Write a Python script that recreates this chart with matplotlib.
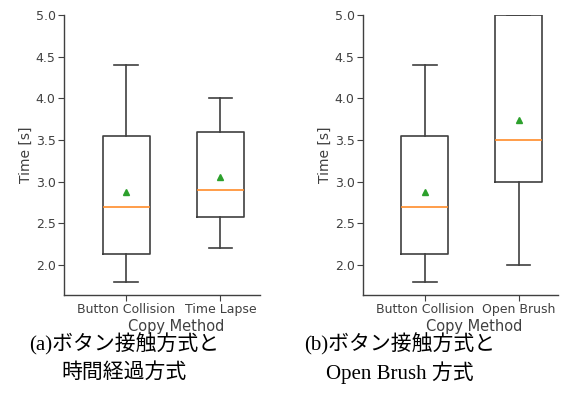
import matplotlib.pyplot as plt

# Box statistics (seconds)
labels_a = ["Button Collision", "Time Lapse"]
labels_b = ["Button Collision", "Open Brush"]

wlo_a  = [1.8, 2.2]
q1_a   = [2.13, 2.58]
med_a  = [2.7, 2.9]
mean_a = [2.88, 3.06]
q3_a   = [3.55, 3.6]
whi_a  = [4.4, 4.0]

wlo_b  = [1.8, 2.0]
q1_b   = [2.13, 3.0]
med_b  = [2.7, 3.5]
mean_b = [2.88, 3.74]
q3_b   = [3.55, 5.0]
whi_b  = [4.4, 5.0]

captions_a = ["(a)ボタン接触方式と", "時間経過方式"]
captions_b = ["(b)ボタン接触方式と", "Open Brush 方式"]


def make_stats(labels, wlo, q1, med, mean, q3, whi):
    stats = []
    for i in range(len(labels)):
        stats.append(dict(label=labels[i], whislo=wlo[i], q1=q1[i], med=med[i],
                          mean=mean[i], q3=q3[i], whishi=whi[i], fliers=[]))
    return stats


fig = plt.figure(figsize=(5.63, 3.96), dpi=100)
W, H = 563, 396

# axes placed in pixel coordinates of the reference
ax_a = fig.add_axes([64 / W, 1 - 295 / H, (260 - 64) / W, (295 - 15) / H])
ax_b = fig.add_axes([363 / W, 1 - 295 / H, (558 - 363) / W, (295 - 15) / H])

sets = [(ax_a, make_stats(labels_a, wlo_a, q1_a, med_a, mean_a, q3_a, whi_a)),
        (ax_b, make_stats(labels_b, wlo_b, q1_b, med_b, mean_b, q3_b, whi_b))]

grey = "#404040"
for ax, stats in sets:
    ax.bxp(stats, showmeans=True, widths=0.5,
           boxprops=dict(color=grey, linewidth=1.2),
           whiskerprops=dict(color=grey, linewidth=1.2),
           capprops=dict(color=grey, linewidth=1.2),
           medianprops=dict(color="#ff8c2a", linewidth=1.2),
           meanprops=dict(marker="^", markerfacecolor="#2ca02c",
                          markeredgecolor="#2ca02c", markersize=5))
    ax.set_xlim(0.34, 2.42)
    ax.set_ylim(1.64, 5.0)
    ax.set_yticks([2.0, 2.5, 3.0, 3.5, 4.0, 4.5, 5.0])
    ax.spines["top"].set_visible(False)
    ax.spines["right"].set_visible(False)
    for s in ["left", "bottom"]:
        ax.spines[s].set_color(grey)
        ax.spines[s].set_linewidth(1.0)
    ax.tick_params(colors=grey, labelsize=9, length=4, width=0.8, pad=2)
    ax.set_ylabel("Time [s]", fontsize=10, color=grey, labelpad=2)
    ax.set_xlabel("Copy Method", fontsize=10.5, color=grey)
    ax.xaxis.set_label_coords(0.57, -0.085)

# captions below the plots, one line each
cap_font = ["Liberation Serif", "Noto Sans CJK JP"]
for x, lines in [(124, captions_a), (400, captions_b)]:
    fig.text(x / W, 1 - 344 / H, lines[0], ha="center", va="center",
             fontsize=15, family=cap_font)
    fig.text(x / W, 1 - 373 / H, lines[1], ha="center", va="center",
             fontsize=15, family=cap_font)

fig.savefig("out.png", dpi=100)
